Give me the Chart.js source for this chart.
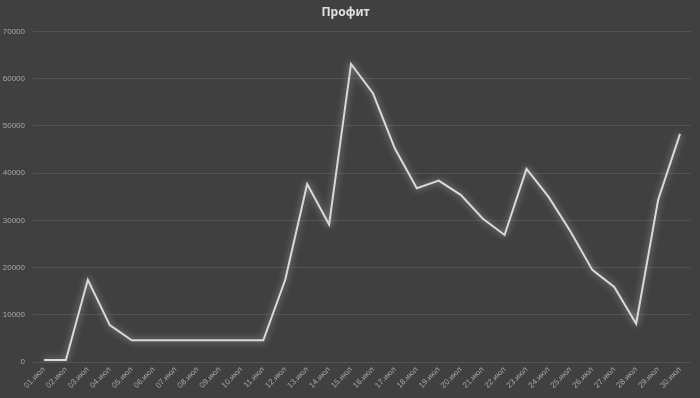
<!DOCTYPE html>
<html>
<head>
<meta charset="utf-8">
<script src="https://cdn.jsdelivr.net/npm/chart.js@4/dist/chart.umd.min.js"></script>
<style>
  html, body { margin: 0; padding: 0; background: #404040; }
  #wrap { width: 700px; height: 398px; }
</style>
</head>
<body>
<div id="wrap"><canvas id="chart"></canvas></div>
<script>
const days = ['01.июл', '02.июл', '03.июл', '04.июл', '05.июл', '06.июл', '07.июл', '08.июл', '09.июл', '10.июл',
  '11.июл', '12.июл', '13.июл', '14.июл', '15.июл', '16.июл', '17.июл', '18.июл', '19.июл', '20.июл',
  '21.июл', '22.июл', '23.июл', '24.июл', '25.июл', '26.июл', '27.июл', '28.июл', '29.июл', '30.июл'];
const profit = [400, 400, 17400, 7800, 4600, 4600, 4600, 4600, 4600, 4600,
  4600, 17400, 37700, 29100, 63100, 56900, 45200, 36800, 38400, 35400,
  30400, 26900, 40900, 35000, 27700, 19500, 15900, 8100, 34300, 48300];

const bgPlugin = {
  id: 'bg',
  beforeDraw(chart) {
    const ctx = chart.ctx;
    ctx.save();
    ctx.fillStyle = '#404040';
    ctx.fillRect(0, 0, chart.width, chart.height);
    ctx.restore();
  },
  beforeDatasetDraw(chart) {
    chart.ctx.save();
    chart.ctx.shadowColor = 'rgba(255,255,255,0.55)';
    chart.ctx.shadowBlur = 7;
  },
  afterDatasetDraw(chart) {
    chart.ctx.restore();
  }
};

new Chart(document.getElementById('chart'), {
  type: 'line',
  data: {
    labels: days,
    datasets: [{
      label: 'Профит',
      data: profit,
      borderColor: '#d9d9d9',
      borderWidth: 2,
      pointRadius: 0,
      tension: 0,
      fill: false
    }]
  },
  options: {
    responsive: true,
    maintainAspectRatio: false,
    animation: false,
    layout: { padding: { left: 0, right: 9, top: 0, bottom: 0 } },
    plugins: {
      legend: { display: false },
      tooltip: { enabled: false },
      title: {
        display: true,
        text: 'Профит',
        color: '#e0e0e0',
        font: { family: 'Noto Sans', size: 12, weight: 'bold' },
        padding: { top: 5, bottom: 12 }
      }
    },
    scales: {
      x: {
        offset: true,
        grid: { display: false, drawTicks: false },
        border: { display: false },
        afterFit: s => { s.height = 36; },
        ticks: {
          color: '#a6a6a6',
          font: { family: 'Liberation Sans', size: 8 },
          maxRotation: 45,
          minRotation: 45,
          autoSkip: false,
          padding: 3
        }
      },
      y: {
        min: 0,
        max: 70000,
        grid: { color: '#525252', lineWidth: 1, drawTicks: false },
        border: { display: false },
        afterFit: s => { s.width = 33; },
        ticks: {
          stepSize: 10000,
          color: '#a6a6a6',
          font: { family: 'Liberation Sans', size: 8 },
          padding: 8,
          callback: v => String(v)
        }
      }
    }
  },
  plugins: [bgPlugin]
});
</script>
</body>
</html>
